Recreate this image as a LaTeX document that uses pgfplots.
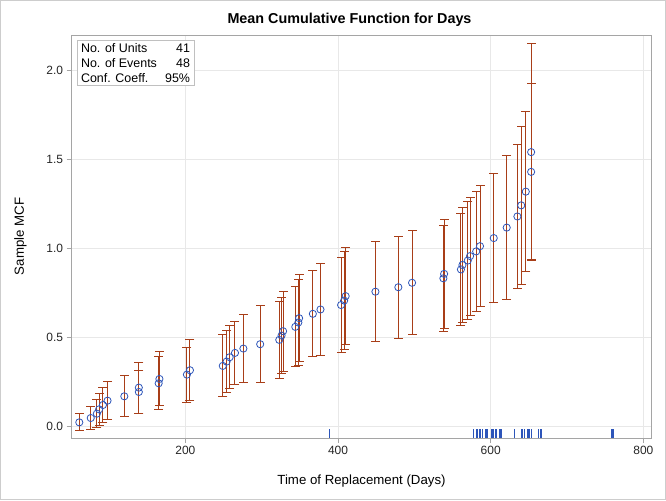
\documentclass[border=0pt]{standalone}
\usepackage{fontspec}
\setmainfont{Liberation Sans}
\usepackage{pgfplots}
\usepackage{pgfplotstable}
\pgfplotsset{compat=1.18}
\definecolor{barc}{RGB}{168,62,24}
\definecolor{markc}{RGB}{45,85,185}
\definecolor{gridc}{RGB}{232,232,232}
\definecolor{framec}{RGB}{165,165,165}
\definecolor{borderc}{RGB}{205,205,205}

% sample MCF at each event time
\pgfplotstableread{
t m
61 0.02439
76 0.04878
84 0.07317
87 0.09756
92 0.12195
98 0.14634
120 0.17073
139 0.19512
139 0.21951
165 0.24390
166 0.26829
202 0.29268
206 0.31707
249 0.34146
254 0.36585
258 0.39024
265 0.41463
276 0.43902
298 0.46341
323 0.48780
326 0.51220
328 0.53659
344 0.56098
348 0.58537
349 0.60976
367 0.63415
377 0.65854
404 0.68354
408 0.70854
410 0.73354
449 0.75854
479 0.78354
497 0.80854
538 0.83354
539 0.85854
561 0.88354
563 0.90854
570 0.93354
573 0.95854
581 0.98486
586 1.01427
604 1.05973
621 1.11855
635 1.18105
640 1.24355
646 1.32047
653 1.43158
653 1.54269
}\mcf

% 95% confidence limits (lower, upper) for each event, bars separated by nan
\pgfplotstableread{
t y
61 -0.02283
61 0.07161
61 nan
76 -0.01716
76 0.11472
76 nan
84 -0.00654
84 0.15288
84 nan
87 0.00673
87 0.18839
87 nan
92 0.02178
92 0.22212
92 nan
98 0.03815
98 0.25453
98 nan
120 0.05555
120 0.28591
120 nan
139 0.07381
139 0.31643
139 nan
139 0.07590
139 0.36312
139 nan
165 0.09608
165 0.39172
165 nan
166 0.11675
166 0.41983
166 nan
202 0.13786
202 0.44750
202 nan
206 0.14552
206 0.48862
206 nan
249 0.16765
249 0.51527
249 nan
254 0.19012
254 0.54158
254 nan
258 0.21293
258 0.56755
258 nan
265 0.23607
265 0.59319
265 nan
276 0.24722
276 0.63082
276 nan
298 0.24858
298 0.67824
298 nan
323 0.27271
323 0.70289
323 nan
326 0.29711
326 0.72729
326 nan
328 0.31137
328 0.76181
328 nan
344 0.33626
344 0.78570
344 nan
348 0.34184
348 0.82890
348 nan
349 0.36715
349 0.85237
349 nan
367 0.39269
367 0.87561
367 nan
377 0.40013
377 0.91695
377 nan
404 0.41710
404 0.94998
404 nan
408 0.43452
408 0.98256
408 nan
410 0.46082
410 1.00626
410 nan
449 0.47884
449 1.03824
449 nan
479 0.49724
479 1.06984
479 nan
497 0.51600
497 1.10108
497 nan
538 0.53509
538 1.13199
538 nan
539 0.55449
539 1.16259
539 nan
561 0.56651
561 1.20057
561 nan
563 0.58661
563 1.23047
563 nan
570 0.59969
570 1.26739
570 nan
573 0.62738
573 1.28970
573 nan
581 0.64930
581 1.32042
581 nan
586 0.67353
586 1.35501
586 nan
604 0.69701
604 1.42245
604 nan
621 0.71185
621 1.52525
621 nan
635 0.77551
635 1.58659
635 nan
640 0.79995
640 1.68715
640 nan
646 0.87260
646 1.76834
646 nan
653 0.93691
653 1.92625
653 nan
653 0.93185
653 2.15353
}\cl

% censoring (end-of-observation) times, shown as a rug
\pgfplotstableread{
t r
389 -0.038
578 -0.038
578 -0.038
582 -0.038
582 -0.038
585 -0.038
585 -0.038
586 -0.038
587 -0.038
587 -0.038
589 -0.038
589 -0.038
593 -0.038
594 -0.038
595 -0.038
596 -0.038
601 -0.038
601 -0.038
603 -0.038
606 -0.038
608 -0.038
611 -0.038
613 -0.038
614 -0.038
631 -0.038
641 -0.038
642 -0.038
644 -0.038
648 -0.038
649 -0.038
650 -0.038
651 -0.038
653 -0.038
653 -0.038
663 -0.038
665 -0.038
667 -0.038
667 -0.038
667 -0.038
759 -0.038
761 -0.038
}\cens

\begin{document}
\begin{tikzpicture}
\begin{axis}[
  scale only axis, width=580bp, height=403bp,
  xmin=50.8, xmax=810.7, ymin=-0.0635, ymax=2.2006,
  xtick={200,400,600,800}, ytick={0,0.5,1,1.5,2},
  grid=major, major grid style={gridc, line width=0.9bp},
  axis line style={framec, line width=0.9bp},
  tick style={framec, line width=0.9bp},
  tick align=outside, tick pos=left, major tick length=5bp,
  /pgf/number format/assume math mode=true,
  ticklabel style={font=\fontsize{12}{14}\selectfont, text=black!85},
  yticklabel style={/pgf/number format/.cd, fixed, fixed zerofill, precision=1},
  xticklabel style={/pgf/number format/.cd, fixed, precision=0},
  xlabel={Time of Replacement (Days)},
  ylabel={Sample MCF},
  every axis x label/.style={at={([yshift=-43bp]rel axis cs:0.5,0)}, anchor=center, font=\fontsize{13.3}{15}\selectfont},
  every axis y label/.style={at={([xshift=-51bp]rel axis cs:0,0.5)}, rotate=90, anchor=center, font=\fontsize{13.3}{15}\selectfont},
  title={Mean Cumulative Function for Days},
  title style={at={([xshift=-12bp,yshift=9bp]rel axis cs:0.5,1)}, anchor=center, font=\bfseries\fontsize{14.4}{17}\selectfont},
  clip=false,
  unbounded coords=jump,
]
\addplot[only marks, color=markc, mark=|, mark size=4.2bp, mark options={solid, line width=1.1bp}] table[x=t, y=r] {\cens};
\addplot[color=barc, line width=1bp, mark=-, mark size=4.5bp, mark options={solid, line width=1bp}] table[x=t, y=y] {\cl};
\addplot[color=markc, only marks, mark=o, mark size=3.6bp, mark options={solid, fill=none, line width=0.8bp}] table[x=t, y=m] {\mcf};
\node[anchor=north west, draw=framec!70, fill=white, line width=0.7bp, inner xsep=4bp, inner ysep=3bp,
  font=\fontsize{12.5}{15}\selectfont, align=left]
  at ([xshift=5.2bp,yshift=-5bp]rel axis cs:0,1)
  {\makebox[109bp]{No. of Units\hfill 41}\\\makebox[109bp]{No. of Events\hfill 48}\\\makebox[109bp]{Conf. Coeff.\hfill 95\%}};
\coordinate (sw) at (rel axis cs:0,0);
\coordinate (ne) at (rel axis cs:1,1);
\end{axis}
\draw[borderc, line width=0.8bp] ([shift={(-71.1bp,-61.6bp)}]sw) rectangle ([shift={(14.1bp,34.6bp)}]ne);
\end{tikzpicture}
\end{document}
